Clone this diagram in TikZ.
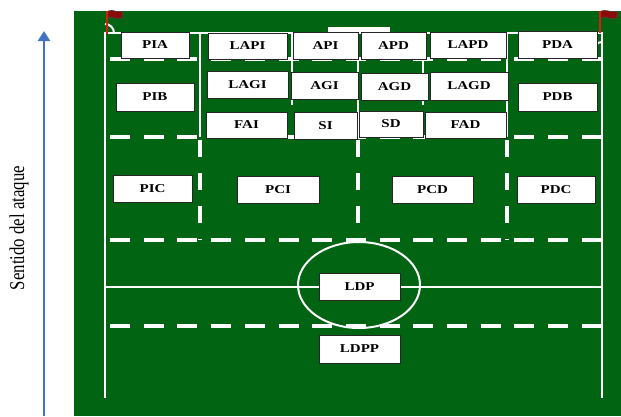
\documentclass[tikz,border=0pt]{standalone}
\usepackage{fontspec}
\setmainfont{Liberation Serif}
\newfontfamily\zonafont[FakeStretch=1.25]{Liberation Serif}
\newfontfamily\sentidofont[FakeStretch=0.8]{Liberation Serif}
\usepackage{tikz}
\usetikzlibrary{arrows.meta,calc,positioning}
\definecolor{cesped}{RGB}{0,100,18}
\definecolor{flecha}{RGB}{68,114,196}
\definecolor{poste}{RGB}{215,30,10}
\definecolor{banderin}{RGB}{140,12,12}
\tikzset{
  zona/.style={draw=black!85, fill=white, line width=0.8pt, inner sep=0pt,
    font=\zonafont\bfseries\fontsize{12}{13}\selectfont},
  linea/.style={white, line width=2pt},
  discont/.style={white, line width=3.5pt, dash pattern=on 20pt off 13.7pt},
  discontv/.style={white, line width=3.5pt, dash pattern=on 17pt off 16pt}
}

\begin{document}
\begin{tikzpicture}[x=1pt,y=-1pt]
        \useasboundingbox (0,0) rectangle (621,416);
        \def\izq{105}
        \def\der{602}
        \def\fondo{33}
        %Field
        \fill[cesped] (74,11) rectangle (621,416);
        %Goal
        \fill[white] (328,27) rectangle (390,33);
        %Solid lines
        \draw[linea] (\izq,398) -- (\izq,\fondo) -- (\der,\fondo) -- (\der,398);
        \draw[linea] (\izq,287) -- (\der,287);
        \draw[linea] (200,\fondo) -- (200,137);
        \draw[linea] (507,\fondo) -- (507,137);
        \draw[linea] (358,\fondo) -- (358,137);
        \draw[linea] (292,\fondo) -- (292,105);
        \draw[linea] (423,\fondo) -- (423,105);
        \draw[linea] (\izq+9,\fondo) arc (0:-90:9);
        \draw[linea] (\der,\fondo+9) arc (270:180:9);
        \draw[linea] (359,285) ellipse (61 and 43);
        %Dashed lines
        \draw[discont] (110,59) -- (\der,59);
        \draw[discont] (110,137) -- (\der,137);
        \draw[discont] (110,240) -- (\der,240);
        \draw[discont] (110,326) -- (\der,326);
        \draw[discontv] (200,140) -- (200,240);
        \draw[discontv] (358,140) -- (358,240);
        \draw[discontv] (507,140) -- (507,240);
        %Flags
        \draw[poste, line width=2pt] (107,11) -- (107,34);
        \filldraw[banderin, draw=black!70, line width=0.4pt] (108,11) .. controls (113,8) and (117,14) .. (123,11) -- (122,18) .. controls (116,21) and (112,15) .. (108,18) -- cycle;
        \draw[poste, line width=2pt] (600,11) -- (600,33);
        \filldraw[banderin, draw=black!70, line width=0.4pt] (601,11) .. controls (606,8) and (611,14) .. (618,11) -- (617,18) .. controls (611,21) and (606,15) .. (601,18) -- cycle;
        %Zones
        \node[zona, minimum width=68pt, minimum height=26pt] (PIA) at (155,45) {PIA};
        \node[zona, minimum width=79pt, minimum height=26pt] (LAPI) at (247.5,46) {LAPI};
        \node[zona, minimum width=65pt, minimum height=27pt] (API) at (325.5,45.5) {API};
        \node[zona, minimum width=65pt, minimum height=27pt] (APD) at (393.5,45.5) {APD};
        \node[zona, minimum width=76pt, minimum height=26pt] (LAPD) at (468,45) {LAPD};
        \node[zona, minimum width=79pt, minimum height=27pt] (PDA) at (557.5,44.5) {PDA};
        \node[zona, minimum width=78pt, minimum height=28pt] (PIB) at (155,97) {PIB};
        \node[zona, minimum width=81pt, minimum height=27pt] (LAGI) at (247.5,84.5) {LAGI};
        \node[zona, minimum width=67pt, minimum height=27pt] (AGI) at (324.5,85.5) {AGI};
        \node[zona, minimum width=67pt, minimum height=27pt] (AGD) at (394.5,86.5) {AGD};
        \node[zona, minimum width=78pt, minimum height=28pt] (LAGD) at (469,86) {LAGD};
        \node[zona, minimum width=79pt, minimum height=28pt] (PDB) at (557.5,97) {PDB};
        \node[zona, minimum width=81pt, minimum height=26pt] (FAI) at (246.5,125) {FAI};
        \node[zona, minimum width=63pt, minimum height=27pt] (SI) at (325.5,125.5) {SI};
        \node[zona, minimum width=64pt, minimum height=26pt] (SD) at (391,124) {SD};
        \node[zona, minimum width=81pt, minimum height=26pt] (FAD) at (465.5,125) {FAD};
        \node[zona, minimum width=79pt, minimum height=27pt] (PIC) at (152.5,188.5) {PIC};
        \node[zona, minimum width=82pt, minimum height=27pt] (PCI) at (278,189.5) {PCI};
        \node[zona, minimum width=81pt, minimum height=27pt] (PCD) at (432.5,189.5) {PCD};
        \node[zona, minimum width=78pt, minimum height=27pt] (PDC) at (556,189.5) {PDC};
        \node[zona, minimum width=81pt, minimum height=27pt] (LDP) at (359.5,286.5) {LDP};
        \node[zona, minimum width=81pt, minimum height=28pt] (LDPP) at (359.5,349) {LDPP};
        %Direction of attack
        \coordinate (ataqueIni) at (44,416);
        \coordinate (ataqueFin) at (44,31);
        \draw[flecha, line width=2.6pt, -{Triangle[length=10pt,width=12pt]}] (ataqueIni) -- (ataqueFin);
        \node[rotate=90, font=\sentidofont\fontsize{21}{24}\selectfont] (sentido) at (19,228) {Sentido del ataque};
      \end{tikzpicture}
\end{document}
